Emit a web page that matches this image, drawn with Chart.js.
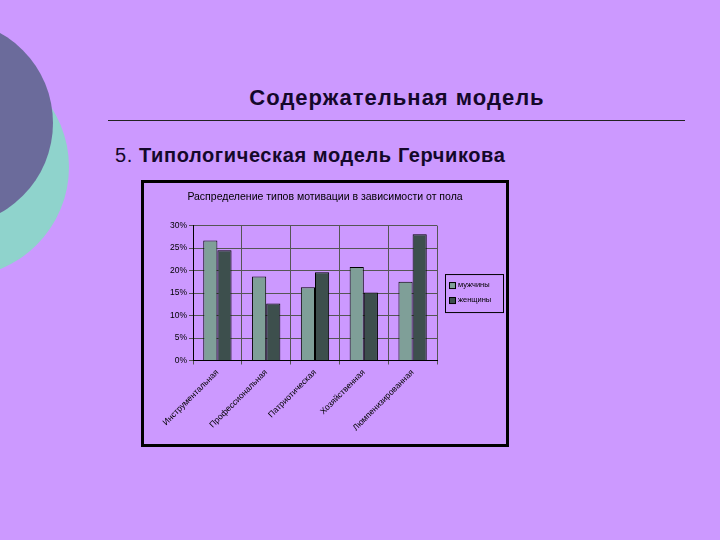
<!DOCTYPE html>
<html>
<head>
<meta charset="utf-8">
<script src="https://cdn.jsdelivr.net/npm/chart.js@4/dist/chart.umd.min.js"></script>
<style>
  html, body { margin: 0; padding: 0; }
  body { width: 720px; height: 540px; background: #cc99ff; position: relative; overflow: hidden; font-family: "Liberation Sans", Arial, sans-serif; }
  .circle { position: absolute; border-radius: 50%; }
  #mint { left: -151px; top: 57px; width: 220px; height: 220px; background: #8fd3cc; }
  #slate { left: -153px; top: 20px; width: 206px; height: 206px; background: #6b6b9b; }
  #title { position: absolute; left: 0; width: 794px; top: 85px; text-align: center; font-size: 22px; letter-spacing: 1px; font-weight: bold; color: #14082a; }
  #rule { position: absolute; left: 108px; top: 120px; width: 577px; height: 1px; background: #222; }
  #sub { position: absolute; left: 115px; top: 144px; font-size: 20px; letter-spacing: 0.6px; color: #14082a; }
  #sub b { font-weight: bold; }
  #box { position: absolute; left: 141px; top: 180px; width: 368px; height: 267px; box-sizing: border-box; border: 3px solid #000; }
  #wrap { position: relative; width: 362px; height: 261px; }
</style>
</head>
<body>
<div class="circle" id="mint"></div>
<div class="circle" id="slate"></div>
<div id="title">Содержательная модель</div>
<div id="rule"></div>
<div id="sub">5. <b>Типологическая модель Герчикова</b></div>
<div id="box"><div id="wrap"><canvas id="chart"></canvas></div></div>

<script>
const categories = ['Инструментальная', 'Профессиональная', 'Патриотическая', 'Хозяйственная', 'Люмпенизированная'];
const menValues = [26.7, 18.7, 16.3, 20.8, 17.5];
const womenValues = [24.5, 12.7, 19.6, 15.1, 28.1];
const seriesLabels = ['мужчины', 'женщины'];
const chartTitle = 'Распределение типов мотивации в зависимости от пола';

// legend drawn as a framed box to the right of the plot
const boxedLegend = {
  id: 'boxedLegend',
  afterDraw(chart) {
    const ctx = chart.ctx;
    const area = chart.chartArea;
    const x = area.left + area.width + 8, w = 58, h = 38;
    const y = (area.top + area.bottom) / 2 - h / 2;
    ctx.save();
    ctx.fillStyle = '#cc99ff';
    ctx.fillRect(x, y, w, h);
    ctx.strokeStyle = '#000';
    ctx.lineWidth = 1;
    ctx.strokeRect(x + 0.5, y + 0.5, w, h);
    ctx.font = '7.5px "Liberation Sans", Arial';
    ctx.textBaseline = 'middle';
    chart.data.datasets.forEach((ds, i) => {
      const cy = y + 11 + i * 15;
      ctx.fillStyle = ds.backgroundColor;
      ctx.fillRect(x + 4, cy - 3, 6, 6);
      ctx.strokeRect(x + 4.5, cy - 2.5, 6, 6);
      ctx.fillStyle = '#000';
      ctx.fillText(ds.label, x + 13, cy);
    });
    ctx.restore();
  }
};

new Chart(document.getElementById('chart').getContext('2d'), {
  type: 'bar',
  data: {
    labels: categories,
    datasets: [
      { label: seriesLabels[0], data: menValues, backgroundColor: '#7f9f98', borderColor: '#000', borderWidth: 1, categoryPercentage: 0.58, barPercentage: 1 },
      { label: seriesLabels[1], data: womenValues, backgroundColor: '#3d4f4d', borderColor: '#000', borderWidth: 1, categoryPercentage: 0.58, barPercentage: 1 },
    ]
  },
  options: {
    responsive: true, maintainAspectRatio: false, animation: false,
    layout: { padding: { top: 4, right: 0, left: 0, bottom: 8 } },
    plugins: {
      legend: { display: false },
      tooltip: { enabled: false },
      title: { display: true, text: chartTitle, color: '#000', font: { size: 10.5, weight: 'normal', family: '"Liberation Sans", Arial' }, padding: { top: 4, bottom: 22 } },
    },
    scales: {
      x: {
        grid: { offset: true, color: '#555', tickLength: 4 },
        border: { color: '#000' },
        ticks: { color: '#000', autoSkip: false, minRotation: 45, maxRotation: 45, font: { size: 8.5, family: '"Liberation Sans", Arial' } },
      },
      y: {
        min: 0, max: 30,
        afterFit: s => { s.width = 49; },
        grid: { color: '#555', tickLength: 4 },
        border: { color: '#000' },
        ticks: { stepSize: 5, color: '#000', padding: 2, font: { size: 8.5, family: '"Liberation Sans", Arial' }, callback: v => v + '%' },
      },
      // empty right-hand axis, only reserves the room where the legend sits
      room: {
        position: 'right', display: true,
        afterFit: s => { s.width = 69; },
        grid: { display: false }, border: { display: false }, ticks: { display: false },
      },
    },
  },
  plugins: [boxedLegend],
});
</script>
</body>
</html>
